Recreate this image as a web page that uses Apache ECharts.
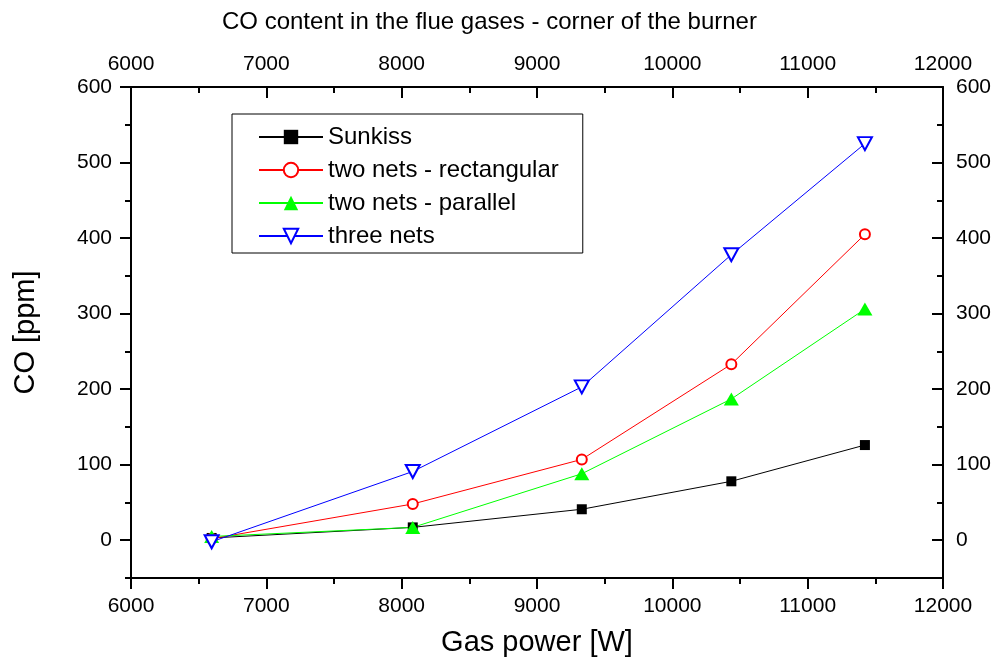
<!DOCTYPE html>
<html>
<head>
<meta charset="utf-8">
<script src="https://cdn.jsdelivr.net/npm/echarts@6/dist/echarts.min.js"></script>
<style>
  html, body { margin: 0; padding: 0; background: #fff; }
  #chart { width: 995px; height: 665px; }
</style>
</head>
<body>
<div id="chart"></div>
<script>
// Gas power [W] at each measuring point
const gasPower = [6596, 8082, 9331, 10436, 11423];

// CO [ppm] per burner configuration
const sunkiss = [3, 17, 41, 78, 126];
const twoNetsRectangular = [2, 48, 107, 233, 405];
const twoNetsParallel = [5, 17, 88, 187, 306];
const threeNets = [-2, 91, 203, 378, 525];

// labelled CO ticks
const coTicks = [0, 100, 200, 300, 400, 500, 600];

const FONT = '"Liberation Sans", Arial, sans-serif';
const BLACK = '#000';

function pairs(values) {
  return gasPower.map((x, i) => [x, values[i]]);
}

const plain = (v) => String(v);

const axisLine = { show: true, onZero: false, lineStyle: { color: BLACK, width: 2 } };

function xAxis(position, inside) {
  return {
    type: 'value',
    position: position,
    min: 6000,
    max: 12000,
    interval: 1000,
    axisLine: axisLine,
    axisTick: { show: true, inside: inside, length: 11, lineStyle: { color: BLACK, width: 2 } },
    minorTick: { show: true, splitNumber: 2, length: 6, lineStyle: { color: BLACK, width: 2 } },
    axisLabel: {
      formatter: plain,
      color: BLACK, fontFamily: FONT, fontSize: 21,
      margin: position === 'bottom' ? 18 : 12
    },
    splitLine: { show: false },
    minorSplitLine: { show: false }
  };
}

// major ticks with labels
function yMajor(position, inside) {
  return {
    type: 'value',
    position: position,
    min: -50,
    max: 600,
    axisLine: axisLine,
    axisTick: { show: true, inside: inside, length: 11, customValues: coTicks,
      lineStyle: { color: BLACK, width: 2 } },
    axisLabel: {
      customValues: coTicks,
      formatter: plain,
      color: BLACK, fontFamily: FONT, fontSize: 21,
      margin: position === 'left' ? 19 : 13
    },
    splitLine: { show: false }
  };
}

// minor ticks every 50 ppm
function yMinor(position, inside) {
  return {
    type: 'value',
    position: position,
    min: -50,
    max: 600,
    interval: 50,
    axisLine: { show: false, onZero: false },
    axisTick: { show: true, inside: inside, length: 6, lineStyle: { color: BLACK, width: 2 } },
    axisLabel: { show: false },
    splitLine: { show: false }
  };
}

const yLeft = yMajor('left', false);
yLeft.name = 'CO [ppm]';
yLeft.nameLocation = 'middle';
yLeft.nameGap = 91;
yLeft.nameTextStyle = { color: BLACK, fontFamily: FONT, fontSize: 29 };

const xBottom = xAxis('bottom', false);
xBottom.name = 'Gas power [W]';
xBottom.nameLocation = 'middle';
xBottom.nameGap = 50;
xBottom.nameTextStyle = { color: BLACK, fontFamily: FONT, fontSize: 29 };

const option = {
  backgroundColor: '#fff',
  animation: false,
  textStyle: { fontFamily: FONT },
  title: {
    text: 'CO content in the flue gases - corner of the burner',
    left: 222,
    top: 10,
    padding: 0,
    textStyle: { color: BLACK, fontFamily: FONT, fontSize: 24, fontWeight: 'normal' }
  },
  grid: { left: 131, right: 52, top: 87, bottom: 87, containLabel: false },
  legend: {
    orient: 'vertical',
    left: 232,
    top: 114,
    padding: [11, 24, 5, 26],
    itemWidth: 64,
    itemHeight: 18,
    itemGap: 9,
    borderColor: BLACK,
    borderWidth: 1,
    textStyle: { color: BLACK, fontFamily: FONT, fontSize: 24 },
    data: ['Sunkiss', 'two nets - rectangular', 'two nets - parallel', 'three nets']
  },
  xAxis: [xBottom, xAxis('top', true)],
  yAxis: [yLeft, yMinor('left', false), yMajor('right', true), yMinor('right', true)],
  series: [
    {
      name: 'Sunkiss', type: 'line', xAxisIndex: 0, yAxisIndex: 0,
      data: pairs(sunkiss),
      symbol: 'rect', symbolSize: 10,
      lineStyle: { color: '#000000', width: 1 },
      itemStyle: { color: '#000000' }
    },
    {
      name: 'two nets - rectangular', type: 'line', xAxisIndex: 0, yAxisIndex: 0,
      data: pairs(twoNetsRectangular),
      symbol: 'emptyCircle', symbolSize: 10,
      lineStyle: { color: '#ff0000', width: 1 },
      itemStyle: { color: '#ff0000', borderWidth: 1.5 }
    },
    {
      name: 'two nets - parallel', type: 'line', xAxisIndex: 0, yAxisIndex: 0,
      data: pairs(twoNetsParallel),
      symbol: 'triangle', symbolSize: [15, 13],
      lineStyle: { color: '#00ff00', width: 1 },
      itemStyle: { color: '#00ff00' }
    },
    {
      name: 'three nets', type: 'line', xAxisIndex: 0, yAxisIndex: 0,
      data: pairs(threeNets),
      symbol: 'emptyTriangle', symbolSize: [14, 13], symbolRotate: 180,
      lineStyle: { color: '#0000ff', width: 1 },
      itemStyle: { color: '#0000ff', borderWidth: 1.5 }
    }
  ]
};

const chart = echarts.init(document.getElementById('chart'), null, { renderer: 'canvas' });
chart.setOption(option);
</script>
</body>
</html>
